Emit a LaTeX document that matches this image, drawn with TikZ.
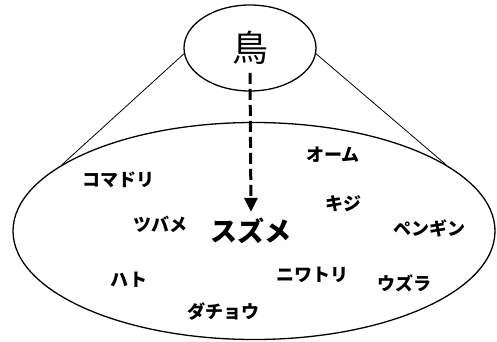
\documentclass[tikz,border=0pt]{standalone}
\usepackage{fontspec}
\newfontfamily\jp{Noto Sans CJK JP}
\usetikzlibrary{shapes.geometric,arrows.meta}

\begin{document}
\begin{tikzpicture}[x=1pt,y=1pt,
    bird/.style={font=\jp\bfseries\fontsize{18}{18}\selectfont, inner sep=1pt},
    oval/.style={draw, ellipse, line width=1.3pt, inner sep=0pt}]
    \useasboundingbox (0,0) rectangle (497,341);
    % the two sets
    \node[oval, minimum width=132, minimum height=86] (birdset) at (250,293) {};
    \node[oval, minimum width=482, minimum height=217] (flock) at (254,110) {};
    \draw[line width=0.8pt] (birdset.185) -- (flock.161);
    \draw[line width=0.8pt] (birdset.355) -- (flock.19);
    \node[font=\jp\fontsize{36}{36}\selectfont, inner sep=0pt] (tori) at (250,293) {鳥};
    \node[font=\jp\bfseries\fontsize{27}{27}\selectfont, inner sep=1pt] (suzume) at (251,110) {スズメ};
    % the members
    \node[bird] (komadori) at (118,161) {コマドリ};
    \node[bird] (tsubame) at (160,117) {ツバメ};
    \node[bird] (hato) at (129,61) {ハト};
    \node[bird] (dacho) at (223,29) {ダチョウ};
    \node[bird] (oomu) at (333,186) {オーム};
    \node[bird] (kiji) at (343,137) {キジ};
    \node[bird] (pengin) at (429,113) {ペンギン};
    \node[bird] (niwatori) at (312,66) {ニワトリ};
    \node[bird] (uzura) at (404,58) {ウズラ};
    \draw[line width=3pt, dash pattern=on 11pt off 5pt,
          -{Triangle[width=13pt,length=14pt]}]
      ([yshift=-8pt]tori.south) -- ([yshift=5pt]suzume.north);
\end{tikzpicture}
\end{document}
